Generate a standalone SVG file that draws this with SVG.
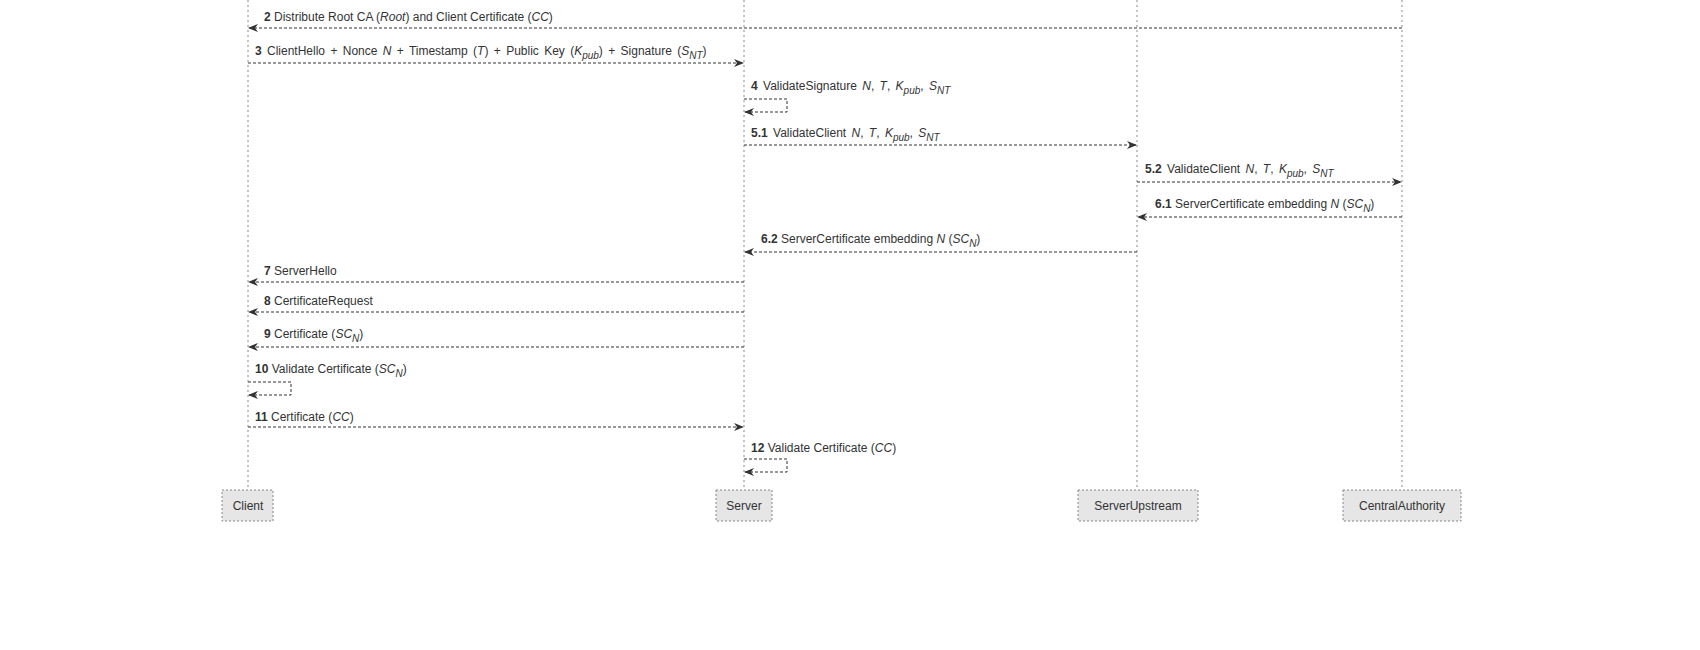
<svg xmlns="http://www.w3.org/2000/svg" width="1700" height="650" viewBox="0 0 1700 650">
<style>
text{font-family:"Liberation Sans",Arial,sans-serif;font-size:12px;fill:#333}
.b{font-weight:bold}
.i{font-style:italic}
.s{font-style:italic;font-size:10px}
.life{stroke:#888;stroke-width:1;stroke-dasharray:2,3;fill:none}
.msg{stroke:#333;stroke-width:1;stroke-dasharray:3,2;fill:none}
.box{fill:#e6e6e6;stroke:#888;stroke-dasharray:2,2}
.nm{font-size:12px;text-anchor:middle}
</style>
<defs>
<marker id="a" viewBox="0 0 10 10" refX="9" refY="5" markerWidth="10" markerHeight="10" orient="auto" markerUnits="userSpaceOnUse"><path d="M0,1 L10,5 L0,9 L3,5 z" fill="#333"/></marker>
</defs>
<g id="lifelines">
<line class="life" x1="248" y1="0" x2="248" y2="490"/>
<line class="life" x1="744" y1="0" x2="744" y2="490"/>
<line class="life" x1="1137" y1="0" x2="1137" y2="490"/>
<line class="life" x1="1402" y1="0" x2="1402" y2="490"/>
</g>
<g id="Client"><rect class="box" x="222" y="490" width="51" height="31"/><text class="nm" x="248" y="510">Client</text></g>
<g id="Server"><rect class="box" x="716" y="490" width="56" height="31"/><text class="nm" x="744" y="510">Server</text></g>
<g id="ServerUpstream"><rect class="box" x="1078" y="490" width="120" height="31"/><text class="nm" x="1138" y="510">ServerUpstream</text></g>
<g id="CentralAuthority"><rect class="box" x="1343" y="490" width="118" height="31"/><text class="nm" x="1402" y="510">CentralAuthority</text></g>
<g id="connectors">
<line class="msg" x1="1402" y1="28" x2="249" y2="28" marker-end="url(#a)"/>
<line class="msg" x1="248" y1="63" x2="743" y2="63" marker-end="url(#a)"/>
<path class="msg" d="M744,99 H787 V112 H745" marker-end="url(#a)"/>
<line class="msg" x1="744" y1="145" x2="1136" y2="145" marker-end="url(#a)"/>
<line class="msg" x1="1137" y1="182" x2="1401" y2="182" marker-end="url(#a)"/>
<line class="msg" x1="1402" y1="217" x2="1138" y2="217" marker-end="url(#a)"/>
<line class="msg" x1="1137" y1="252" x2="745" y2="252" marker-end="url(#a)"/>
<line class="msg" x1="744" y1="282" x2="249" y2="282" marker-end="url(#a)"/>
<line class="msg" x1="744" y1="312" x2="249" y2="312" marker-end="url(#a)"/>
<line class="msg" x1="744" y1="347" x2="249" y2="347" marker-end="url(#a)"/>
<path class="msg" d="M248,382 H291 V395 H249" marker-end="url(#a)"/>
<line class="msg" x1="248" y1="427" x2="743" y2="427" marker-end="url(#a)"/>
<path class="msg" d="M744,459 H787 V472 H745" marker-end="url(#a)"/>
</g>
<g id="labels">
<text x="264" y="21"><tspan class="b">2</tspan> Distribute Root CA (<tspan class="i">Root</tspan>) and Client Certificate (<tspan class="i">CC</tspan>)</text>
<text x="255" y="55" word-spacing="2"><tspan class="b">3</tspan> ClientHello + Nonce <tspan class="i">N</tspan> + Timestamp (<tspan class="i">T</tspan>) + Public Key (<tspan class="i">K</tspan><tspan class="s" dy="4">pub</tspan><tspan dy="-4">) + Signature (</tspan><tspan class="i">S</tspan><tspan class="s" dy="4">NT</tspan><tspan dy="-4">)</tspan></text>
<text x="751" y="90" word-spacing="2"><tspan class="b">4</tspan> ValidateSignature <tspan class="i">N</tspan>, <tspan class="i">T</tspan>, <tspan class="i">K</tspan><tspan class="s" dy="4">pub</tspan><tspan dy="-4">, </tspan><tspan class="i">S</tspan><tspan class="s" dy="4">NT</tspan></text>
<text x="751" y="137" word-spacing="2"><tspan class="b">5.1</tspan> ValidateClient <tspan class="i">N</tspan>, <tspan class="i">T</tspan>, <tspan class="i">K</tspan><tspan class="s" dy="4">pub</tspan><tspan dy="-4">, </tspan><tspan class="i">S</tspan><tspan class="s" dy="4">NT</tspan></text>
<text x="1145" y="173" word-spacing="2"><tspan class="b">5.2</tspan> ValidateClient <tspan class="i">N</tspan>, <tspan class="i">T</tspan>, <tspan class="i">K</tspan><tspan class="s" dy="4">pub</tspan><tspan dy="-4">, </tspan><tspan class="i">S</tspan><tspan class="s" dy="4">NT</tspan></text>
<text x="1155" y="208"><tspan class="b">6.1</tspan> ServerCertificate embedding <tspan class="i">N</tspan> (<tspan class="i">SC</tspan><tspan class="s" dy="4">N</tspan><tspan dy="-4">)</tspan></text>
<text x="761" y="243"><tspan class="b">6.2</tspan> ServerCertificate embedding <tspan class="i">N</tspan> (<tspan class="i">SC</tspan><tspan class="s" dy="4">N</tspan><tspan dy="-4">)</tspan></text>
<text x="264" y="275"><tspan class="b">7</tspan> ServerHello</text>
<text x="264" y="305"><tspan class="b">8</tspan> CertificateRequest</text>
<text x="264" y="338"><tspan class="b">9</tspan> Certificate (<tspan class="i">SC</tspan><tspan class="s" dy="4">N</tspan><tspan dy="-4">)</tspan></text>
<text x="255" y="373"><tspan class="b">10</tspan> Validate Certificate (<tspan class="i">SC</tspan><tspan class="s" dy="4">N</tspan><tspan dy="-4">)</tspan></text>
<text x="255" y="421"><tspan class="b">11</tspan> Certificate (<tspan class="i">CC</tspan>)</text>
<text x="751" y="452"><tspan class="b">12</tspan> Validate Certificate (<tspan class="i">CC</tspan>)</text>
</g>
</svg>
